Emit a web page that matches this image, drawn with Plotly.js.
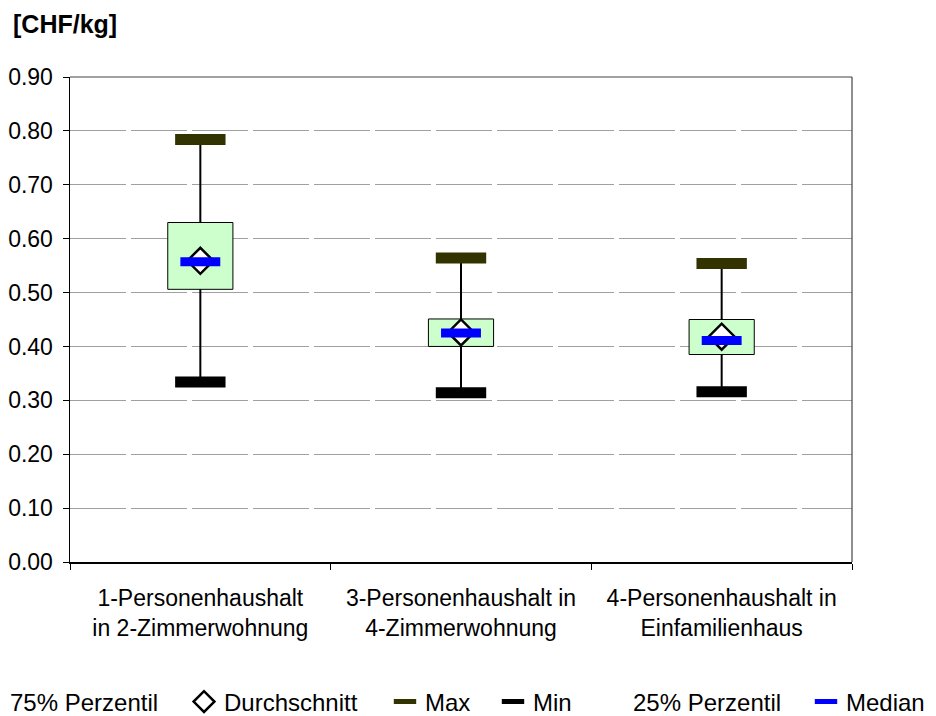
<!DOCTYPE html>
<html>
<head>
<meta charset="utf-8">
<script src="https://cdn.plot.ly/plotly-3.0.1.min.js"></script>
<style>html,body{margin:0;padding:0;background:#fff;}#chart{width:936px;height:716px;}</style>
</head>
<body>
<div id="chart"></div>
<script>
// ---- data ----
const categories = ['1-Personenhaushalt<br>in 2-Zimmerwohnung', '3-Personenhaushalt in<br>4-Zimmerwohnung', '4-Personenhaushalt in<br>Einfamilienhaus'];
const p75 = [0.630, 0.451, 0.450];
const p25 = [0.506, 0.400, 0.385];
const meanVals = [0.559, 0.426, 0.418];
const medianVals = [0.557, 0.425, 0.411];
const maxVals = [0.784, 0.564, 0.554];
const minVals = [0.334, 0.314, 0.316];
const yTicks = [0, 0.1, 0.2, 0.3, 0.4, 0.5, 0.6, 0.7, 0.8, 0.9];

const FONT = 'Liberation Sans, Arial, sans-serif';

// whisker segments (min->p25, p75->max)
const wx = [], wy = [];
categories.forEach((c, i) => {
  wx.push(c, c, c, c, c, c);
  wy.push(minVals[i], p25[i], null, p75[i], maxVals[i], null);
});

const traces = [
  { type: 'bar', x: categories, base: p25, y: p75.map((v, i) => v - p25[i]), width: 0.25,
    marker: { color: '#ccffcc', line: { color: '#000', width: 1 } }, showlegend: false, hoverinfo: 'skip' },
  { type: 'scatter', mode: 'lines', x: wx, y: wy, connectgaps: false,
    line: { color: '#000', width: 2 }, showlegend: false, hoverinfo: 'skip' },
  { type: 'scatter', mode: 'markers', name: '75% Perzentil', x: categories, y: p75,
    marker: { color: 'rgba(0,0,0,0)', size: 1 }, legend: 'legend', hoverinfo: 'skip' },
  { type: 'scatter', mode: 'markers', name: 'Durchschnitt', x: categories, y: meanVals,
    marker: { symbol: 'diamond', size: 20, color: '#fff', line: { color: '#000', width: 2.5 } }, legend: 'legend2', hoverinfo: 'skip' },
  { type: 'scatter', mode: 'markers', name: 'Median', x: categories, y: medianVals,
    marker: { symbol: 'line-ew', size: 28.5, color: '#0000ff', line: { color: '#0000ff', width: 9 } }, legend: 'legend6', hoverinfo: 'skip' },
  { type: 'scatter', mode: 'markers', name: 'Max', x: categories, y: maxVals,
    marker: { symbol: 'line-ew', size: 36, color: '#333300', line: { color: '#333300', width: 11 } }, legend: 'legend3', hoverinfo: 'skip' },
  { type: 'scatter', mode: 'markers', name: 'Min', x: categories, y: minVals,
    marker: { symbol: 'line-ew', size: 36, color: '#000', line: { color: '#000', width: 11 } }, legend: 'legend4', hoverinfo: 'skip' },
  { type: 'scatter', mode: 'markers', name: '25% Perzentil', x: categories, y: p25,
    marker: { color: 'rgba(0,0,0,0)', size: 1 }, legend: 'legend5', hoverinfo: 'skip' }
];

// plot area in px: left 70, width 782, bottom 562, height 485
function leg(textStartPx) {
  return { xref: 'paper', yref: 'paper', x: (textStartPx - 40 - 70) / 782, xanchor: 'left',
    y: (562 - 702) / 485, yanchor: 'middle', orientation: 'h', bgcolor: 'rgba(0,0,0,0)',
    font: { family: FONT, size: 24, color: '#000' } };
}

const layout = {
  width: 936, height: 716,
  paper_bgcolor: '#fff', plot_bgcolor: '#fff',
  margin: { l: 70, r: 83.5, t: 77, b: 154, autoexpand: false },
  font: { family: FONT, size: 23, color: '#000' },
  title: { text: '<b>[CHF/kg]</b>', xref: 'container', yref: 'container', x: 13 / 936, xanchor: 'left',
    y: 1 - 24 / 716, yanchor: 'middle', font: { family: FONT, size: 25, color: '#000' } },
  xaxis: { type: 'category', range: [-0.5, 2.5], showline: true, linecolor: '#000', linewidth: 1.5,
    ticks: 'outside', tickson: 'boundaries', ticklen: 6, tickcolor: '#000', showgrid: false,
    ticklabelstandoff: 15,
    tickfont: { family: FONT, size: 23, color: '#000' }, fixedrange: true },
  yaxis: { range: [0, 0.9], tickvals: yTicks, tickformat: '.2f', showline: true, linecolor: '#000', linewidth: 1.5,
    ticks: 'outside', ticklen: 6, tickcolor: '#000', showgrid: true, gridcolor: '#a0a0a0', gridwidth: 1,
    griddash: '56px,5px', zeroline: false, ticklabelstandoff: 5,
    tickfont: { family: FONT, size: 23, color: '#000' }, fixedrange: true },
  shapes: [
    { type: 'line', xref: 'paper', yref: 'paper', x0: 0, x1: 1, y0: 1, y1: 1, line: { color: '#444', width: 1.2 } },
    { type: 'line', xref: 'paper', yref: 'paper', x0: 1, x1: 1, y0: 0, y1: 1, line: { color: '#444', width: 1.2 } }
  ],
  legend: leg(10),
  legend2: leg(224),
  legend3: leg(425),
  legend4: leg(533),
  legend5: leg(633),
  legend6: leg(846),
  showlegend: true
};

Plotly.newPlot('chart', traces, layout, { displayModeBar: false, staticPlot: true });
</script>
</body>
</html>
